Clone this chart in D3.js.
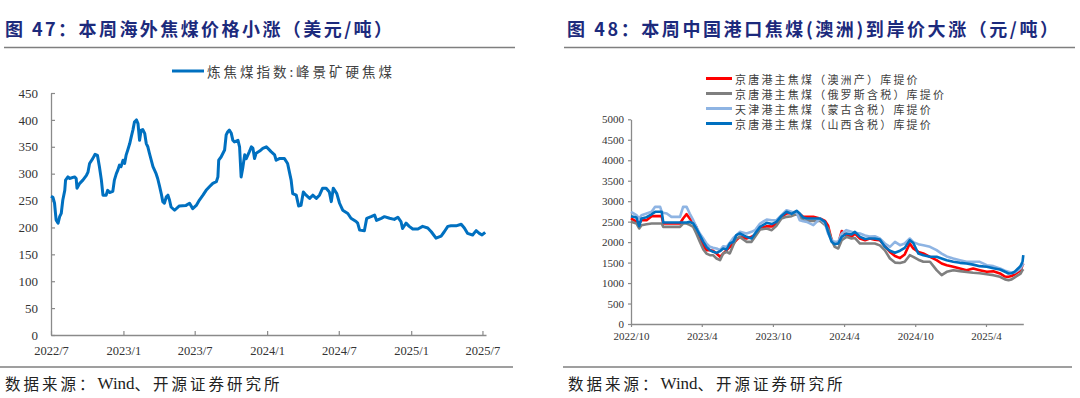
<!DOCTYPE html>
<html><head><meta charset="utf-8">
<script src="https://cdn.jsdelivr.net/npm/d3@7"></script>
<style>body{margin:0;background:#fff} svg{display:block}</style>
</head><body><svg id="c" width="1080" height="398"></svg>
<script>
// ---------- Left chart data (炼焦煤指数:峰景矿硬焦煤, USD/t) ----------
const leftDates = ["2022-07-01","2022-07-06","2022-07-10","2022-07-14","2022-07-19","2022-07-23","2022-07-27","2022-07-31","2022-08-05","2022-08-07","2022-08-13","2022-08-17","2022-08-30","2022-09-03","2022-09-05","2022-09-12","2022-09-20","2022-09-29","2022-10-03","2022-10-07","2022-10-15","2022-10-21","2022-10-27","2022-11-01","2022-11-06","2022-11-10","2022-11-18","2022-11-22","2022-11-27","2022-12-05","2022-12-09","2022-12-14","2022-12-18","2022-12-22","2022-12-26","2022-12-31","2023-01-04","2023-01-08","2023-01-12","2023-01-17","2023-01-21","2023-01-25","2023-01-29","2023-02-03","2023-02-07","2023-02-11","2023-02-15","2023-02-19","2023-02-24","2023-02-28","2023-03-04","2023-03-08","2023-03-17","2023-03-25","2023-03-29","2023-04-03","2023-04-07","2023-04-11","2023-04-15","2023-04-20","2023-04-24","2023-04-28","2023-05-02","2023-05-11","2023-05-23","2023-06-09","2023-06-18","2023-06-26","2023-07-05","2023-07-13","2023-07-22","2023-07-30","2023-08-08","2023-08-16","2023-08-25","2023-08-29","2023-08-31","2023-09-06","2023-09-15","2023-09-19","2023-09-23","2023-09-27","2023-10-02","2023-10-06","2023-10-10","2023-10-19","2023-10-23","2023-10-27","2023-10-31","2023-11-05","2023-11-09","2023-11-17","2023-11-22","2023-11-26","2023-11-30","2023-12-04","2023-12-13","2023-12-21","2023-12-30","2024-01-03","2024-01-11","2024-01-20","2024-01-24","2024-02-01","2024-02-14","2024-02-22","2024-03-02","2024-03-06","2024-03-15","2024-03-21","2024-03-27","2024-04-02","2024-04-09","2024-04-18","2024-04-26","2024-05-05","2024-05-13","2024-05-21","2024-05-30","2024-06-07","2024-06-12","2024-06-17","2024-06-26","2024-07-03","2024-07-11","2024-07-24","2024-08-01","2024-08-14","2024-08-18","2024-08-23","2024-09-04","2024-09-10","2024-09-21","2024-09-30","2024-10-05","2024-10-17","2024-10-25","2024-11-07","2024-11-19","2024-11-28","2024-12-06","2024-12-10","2024-12-19","2024-12-27","2025-01-05","2025-01-18","2025-01-30","2025-02-12","2025-02-21","2025-03-05","2025-03-18","2025-03-26","2025-04-04","2025-04-12","2025-04-25","2025-05-08","2025-05-16","2025-05-24","2025-06-06","2025-06-15","2025-06-23","2025-06-30","2025-07-08"];
const leftValues = [258,256,245,214,208,220,226,251,269,288,294,291,294,291,273,282,288,297,303,319,328,336,334,313,288,260,260,269,265,267,288,300,307,316,313,325,319,335,344,356,369,381,396,400,393,362,381,382,375,356,350,338,313,300,291,276,263,248,245,257,260,251,238,232,240,241,245,235,241,251,260,269,276,282,285,294,325,331,344,372,378,381,375,362,359,362,350,294,310,335,328,341,350,347,328,338,342,347,350,347,341,335,325,328,328,319,288,263,260,240,241,266,260,254,260,254,260,273,273,266,248,273,263,245,232,226,217,211,208,195,194,217,220,223,213,217,220,217,215,219,211,198,208,202,197,197,202,199,192,180,184,192,202,203,203,206,199,189,186,194,189,186,191];
const leftSeriesName = "炼焦煤指数:峰景矿硬焦煤";
const leftXTickLabels = ["2022/7","2023/1","2023/7","2024/1","2024/7","2025/1","2025/7"];
const leftYTicks = [0,50,100,150,200,250,300,350,400,450];

// ---------- Right chart data (京唐港/天津港 主焦煤库提价, CNY/t) ----------
const rightDates = ["2022-10-01","2022-10-15","2022-10-22","2022-10-28","2022-11-10","2022-11-23","2022-12-02","2022-12-15","2022-12-19","2022-12-23","2023-01-01","2023-01-13","2023-02-04","2023-02-12","2023-02-21","2023-03-01","2023-03-10","2023-03-18","2023-03-27","2023-04-05","2023-04-13","2023-04-22","2023-04-30","2023-05-09","2023-05-18","2023-05-26","2023-06-04","2023-06-12","2023-06-21","2023-06-29","2023-07-08","2023-07-25","2023-08-07","2023-08-16","2023-08-29","2023-09-15","2023-09-28","2023-10-10","2023-10-23","2023-11-05","2023-11-18","2023-12-01","2023-12-09","2023-12-18","2023-12-27","2024-01-13","2024-01-30","2024-02-12","2024-02-20","2024-02-29","2024-03-08","2024-03-17","2024-03-26","2024-04-07","2024-04-20","2024-04-29","2024-05-12","2024-05-25","2024-06-06","2024-06-19","2024-07-02","2024-07-15","2024-07-28","2024-08-10","2024-08-23","2024-09-04","2024-09-17","2024-09-26","2024-10-09","2024-10-22","2024-11-08","2024-11-25","2024-12-08","2024-12-21","2025-01-07","2025-01-24","2025-02-10","2025-02-27","2025-03-16","2025-04-03","2025-04-20","2025-05-07","2025-05-20","2025-05-29","2025-06-06","2025-06-14","2025-06-23","2025-06-29","2025-07-04","2025-07-06"];
const redValues =       [2577,2500,2455,2536,2536,2634,2634,2634,2634,2455,2455,2455,2455,2577,2683,2577,2495,2373,2129,1925,1803,1800,1787,1722,1641,1720,1803,1880,1966,2050,2129,2088,2130,2170,2333,2390,2380,2455,2617,2699,2715,2740,2683,2617,2617,2617,2577,2520,2400,2050,1966,1966,2270,2170,2129,2210,2088,2047,2088,2060,2047,1900,1760,1660,1610,1700,1966,1844,1760,1722,1641,1559,1478,1437,1397,1356,1315,1356,1315,1275,1290,1234,1160,1152,1170,1210,1275,1300,1437,1480];
const greyValues =      [2495,2455,2333,2414,2438,2455,2455,2455,2455,2373,2373,2373,2373,2455,2455,2420,2373,2210,2007,1820,1720,1681,1681,1600,1559,1722,1763,1722,1925,2088,2129,2007,2007,2129,2308,2333,2292,2400,2577,2617,2634,2683,2617,2536,2520,2520,2520,2420,2333,2047,1885,1844,2047,2129,2088,2100,1966,1966,1966,1966,1920,1800,1600,1500,1490,1519,1681,1640,1570,1519,1519,1315,1193,1275,1315,1291,1270,1250,1240,1215,1193,1152,1090,1071,1090,1140,1193,1230,1315,1340];
const lightBlueValues = [2740,2658,2577,2658,2699,2740,2862,2862,2740,2720,2699,2617,2617,2862,2862,2699,2536,2373,2210,2088,1966,1885,1860,1844,1803,1900,1885,1982,2100,2170,2251,2210,2251,2292,2455,2552,2536,2536,2658,2780,2740,2715,2536,2510,2495,2414,2577,2455,2210,2047,2007,2007,2210,2292,2251,2230,2210,2160,2135,2145,2088,1966,1885,2007,1925,1966,2088,2000,1950,1925,1885,1803,1720,1650,1600,1559,1519,1519,1519,1437,1413,1356,1300,1275,1250,1260,1315,1360,1437,1480];
const blueValues =      [2634,2600,2390,2577,2610,2680,2740,2740,2740,2479,2479,2479,2479,2479,2479,2495,2455,2333,2170,2007,1885,1803,1763,1738,1779,1844,1820,1966,2007,2170,2210,2129,2088,2210,2373,2471,2440,2495,2640,2740,2690,2764,2699,2600,2577,2577,2577,2495,2251,2007,1950,1966,2129,2210,2186,2251,2129,2075,2088,2088,2064,1885,1790,1740,1790,1860,2047,1980,1722,1681,1641,1641,1600,1559,1519,1494,1478,1450,1413,1397,1360,1332,1275,1234,1240,1280,1360,1420,1519,1681];
const rightSeriesNames = ["京唐港主焦煤（澳洲产）库提价","京唐港主焦煤（俄罗斯含税）库提价","天津港主焦煤（蒙古含税）库提价","京唐港主焦煤（山西含税）库提价"];
const rightXTickLabels = ["2022/10","2023/4","2023/10","2024/4","2024/10","2025/4"];
const rightYTicks = [0,500,1000,1500,2000,2500,3000,3500,4000,4500,5000];

// ---------- Texts ----------
const leftTitle = "图 47：本周海外焦煤价格小涨（美元/吨）";
const rightTitle = "图 48：本周中国港口焦煤(澳洲)到岸价大涨（元/吨）";
const sourceParts = ["数据来源：", "Wind", "、开源证券研究所"];

// ---------- Styles ----------
const TITLE_COLOR = "#1c2a7c";
const AXIS_COLOR = "#8a8a8a";
const SEP_COLOR = "#7f7f7f";
const CJK = "'Noto Sans CJK SC','Noto Sans',sans-serif";
const SERIF = "'Liberation Serif','DejaVu Serif',serif";
const rightColors = ["#ff0000","#7f7f7f","#8eb4e3","#0070c0"];

const parse = d3.timeParse("%Y-%m-%d");
const parseTick = s => { const [y,m] = s.split("/").map(Number); return new Date(y, m-1, 1); };
const svg = d3.select("#c");

// ---------- Headers / footers ----------
function header(x, titleW, text, lineX0, lineX1) {
  svg.append("text").attr("x", x).attr("y", 28).attr("dominant-baseline","central")
    .attr("font-family", CJK).attr("font-weight", "bold").attr("font-size", 18)
    .attr("fill", TITLE_COLOR).attr("textLength", titleW).attr("lengthAdjust","spacing").text(text);
  svg.append("line").attr("x1", lineX0).attr("x2", lineX1).attr("y1", 47.5).attr("y2", 47.5)
    .attr("stroke", SEP_COLOR).attr("stroke-width", 1.6);
}
function footer(x, lineX0, lineX1) {
  svg.append("line").attr("x1", lineX0).attr("x2", lineX1).attr("y1", 367).attr("y2", 367)
    .attr("stroke", SEP_COLOR).attr("stroke-width", 1.6);
  const t = svg.append("text").attr("x", x).attr("y", 383).attr("dominant-baseline","central")
    .attr("fill", "#222");
  t.selectAll("tspan").data(sourceParts).join("tspan")
    .attr("font-family", (d, i) => i === 1 ? SERIF : CJK)
    .attr("font-size", (d, i) => i === 1 ? 17 : 15.5)
    .attr("letter-spacing", (d, i) => i === 1 ? 0 : 3)
    .text(d => d);
}
header(5, 387, leftTitle, 4, 515);
header(567, 491, rightTitle, 564, 1075);
footer(5, 0, 513);
footer(568, 563, 1072);

function styleAxis(g, fs) {
  g.select(".domain").attr("stroke", AXIS_COLOR).attr("stroke-width", 1.3);
  g.selectAll(".tick line").attr("stroke", AXIS_COLOR).attr("stroke-width", 1.2);
  g.selectAll(".tick text").attr("font-family", SERIF).attr("font-size", fs).attr("fill", "#333");
}

// ---------- Left chart ----------
{
  const x = d3.scaleTime().domain([parse("2022-07-01"), parse("2025-07-10")]).range([51, 486]);
  const y = d3.scaleLinear().domain([0, 450]).range([335, 93]);
  const data = leftDates.map((d, i) => ({ date: parse(d), v: leftValues[i] }));

  const gx = svg.append("g").attr("transform", `translate(0,${y(0)})`)
    .call(d3.axisBottom(x).tickValues(leftXTickLabels.map(parseTick))
      .tickFormat((d, i) => leftXTickLabels[i]).tickSizeInner(-4).tickSizeOuter(0).tickPadding(11));
  styleAxis(gx, 12.5);
  const gy = svg.append("g").attr("transform", `translate(${x.range()[0]},0)`)
    .call(d3.axisLeft(y).tickValues(leftYTicks).tickFormat(d3.format("d")).tickSizeInner(-4).tickSizeOuter(0).tickPadding(13));
  styleAxis(gy, 13);

  svg.append("path").datum(data)
    .attr("d", d3.line().x(d => x(d.date)).y(d => y(d.v)))
    .attr("fill", "none").attr("stroke", "#0070c0").attr("stroke-width", 3).attr("stroke-linejoin","round");

  // legend
  svg.append("line").attr("x1", 172).attr("x2", 204).attr("y1", 71).attr("y2", 71)
    .attr("stroke", "#0070c0").attr("stroke-width", 3);
  svg.append("text").attr("x", 207).attr("y", 71).attr("dominant-baseline","central")
    .attr("font-family", CJK).attr("font-size", 13.5).attr("fill", "#404040")
    .attr("textLength", 185).attr("lengthAdjust","spacing").text(leftSeriesName);
}

// ---------- Right chart ----------
{
  const x = d3.scaleTime().domain([parse("2022-10-01"), parse("2025-07-06")]).range([631, 1023.3]);
  const y = d3.scaleLinear().domain([0, 5000]).range([324, 119.3]);
  const dates = rightDates.map(parse);
  const series = [redValues, greyValues, lightBlueValues, blueValues];

  const gx = svg.append("g").attr("transform", `translate(0,${y(0)})`)
    .call(d3.axisBottom(x).tickValues(rightXTickLabels.map(parseTick))
      .tickFormat((d, i) => rightXTickLabels[i]).tickSizeInner(3).tickSizeOuter(0).tickPadding(5));
  styleAxis(gx, 11);
  const gy = svg.append("g").attr("transform", `translate(${x.range()[0]},0)`)
    .call(d3.axisLeft(y).tickValues(rightYTicks).tickFormat(d3.format("d")).tickSizeInner(3).tickSizeOuter(0).tickPadding(4));
  styleAxis(gy, 11);

  const line = d3.line().x((d, i) => x(dates[i])).y(d => y(d));
  svg.selectAll("path.rs").data(series).join("path").attr("class","rs")
    .attr("d", line).attr("fill","none")
    .attr("stroke", (d, i) => rightColors[i]).attr("stroke-width", 2.6).attr("stroke-linejoin","round");

  const lg = svg.selectAll("g.lg").data(rightSeriesNames).join("g").attr("class","lg")
    .attr("transform", (d, i) => `translate(706,${78.5 + i * 15})`);
  lg.append("line").attr("x1", 0).attr("x2", 26).attr("stroke", (d, i) => rightColors[i]).attr("stroke-width", 3);
  lg.append("text").attr("x", 29).attr("dominant-baseline","central")
    .attr("font-family", CJK).attr("font-size", 11).attr("letter-spacing", 2.2)
    .attr("fill", "#404040").text(d => d);
}
</script>
</body></html>
